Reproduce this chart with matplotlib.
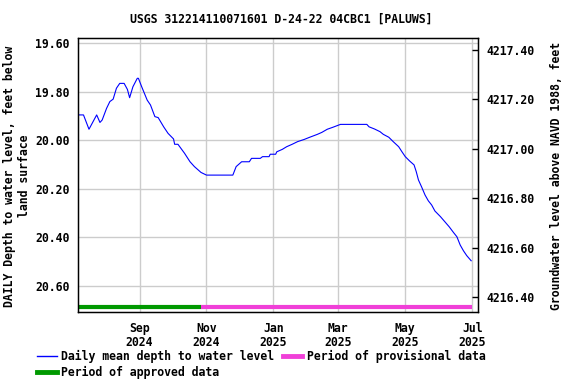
import matplotlib
matplotlib.use("Agg")
import matplotlib.pyplot as plt
from matplotlib.lines import Line2D
import pandas as pd

title = "USGS 312214110071601 D-24-22 04CBC1 [PALUWS]"

dates = [
    "2024-07-07", "2024-07-12", "2024-07-17", "2024-07-24", "2024-07-27", "2024-07-29",
    "2024-08-02", "2024-08-05", "2024-08-08", "2024-08-11", "2024-08-14", "2024-08-18",
    "2024-08-21", "2024-08-23", "2024-08-26", "2024-08-30", "2024-08-31", "2024-09-03",
    "2024-09-08", "2024-09-11", "2024-09-15", "2024-09-18", "2024-09-23", "2024-09-27",
    "2024-10-02", "2024-10-03", "2024-10-06", "2024-10-12", "2024-10-17", "2024-10-21",
    "2024-10-27", "2024-11-01", "2024-11-25", "2024-11-28", "2024-12-03", "2024-12-10",
    "2024-12-12", "2024-12-20", "2024-12-22", "2024-12-28", "2024-12-29", "2025-01-03",
    "2025-01-04", "2025-01-09", "2025-01-13", "2025-01-18", "2025-01-23", "2025-01-29",
    "2025-02-03", "2025-02-10", "2025-02-14", "2025-02-19", "2025-02-24", "2025-03-03",
    "2025-03-27", "2025-03-29", "2025-04-03", "2025-04-08", "2025-04-11", "2025-04-16",
    "2025-04-20", "2025-04-25", "2025-04-28", "2025-05-01", "2025-05-05", "2025-05-09",
    "2025-05-11", "2025-05-13", "2025-05-16", "2025-05-19", "2025-05-22", "2025-05-25",
    "2025-05-28", "2025-06-02", "2025-06-06", "2025-06-10", "2025-06-14", "2025-06-17",
    "2025-06-20", "2025-06-23", "2025-06-26", "2025-06-30",
]
depth = [
    19.895, 19.895, 19.954, 19.895, 19.926, 19.916,
    19.868, 19.840, 19.830, 19.785, 19.765, 19.765,
    19.790, 19.824, 19.779, 19.744, 19.744, 19.779,
    19.834, 19.854, 19.902, 19.906, 19.944, 19.971,
    19.994, 20.016, 20.016, 20.053, 20.088, 20.108,
    20.132, 20.143, 20.143, 20.108, 20.088, 20.088,
    20.074, 20.074, 20.067, 20.067, 20.057, 20.057,
    20.047, 20.037, 20.026, 20.016, 20.005, 19.996,
    19.987, 19.975, 19.967, 19.954, 19.946, 19.934,
    19.934, 19.944, 19.953, 19.964, 19.975, 19.987,
    20.005, 20.026, 20.047, 20.067, 20.085, 20.101,
    20.129, 20.163, 20.193, 20.225, 20.249, 20.266,
    20.291, 20.314, 20.335, 20.356, 20.380, 20.397,
    20.431, 20.455, 20.475, 20.496,
]

approved_period = ["2024-07-07", "2024-10-27"]
provisional_period = ["2024-10-27", "2025-07-01"]
period_depth = 20.685

left_ticks = [19.60, 19.80, 20.00, 20.20, 20.40, 20.60]
right_ticks = [4217.40, 4217.20, 4217.00, 4216.80, 4216.60, 4216.40]
right_limits = [4216.3393, 4217.4485]
x_ticks = ["2024-09-01", "2024-11-01", "2025-01-01", "2025-03-01", "2025-05-01", "2025-07-01"]
x_labels = ["Sep\n2024", "Nov\n2024", "Jan\n2025", "Mar\n2025", "May\n2025", "Jul\n2025"]

FONT = "DejaVu Sans Mono"
FS = 8.3
plt.rcParams["font.family"] = FONT
plt.rcParams["font.weight"] = "bold"

fig = plt.figure(figsize=(5.76, 3.84), dpi=100)
W, H = 576, 384
l, r, t, b = 78, 478.3, 38, 312.3
ax = fig.add_axes([l / W, 1 - b / H, (r - l) / W, (b - t) / H])

blue = "#0000ff"
green = "#009900"
pink = "#f040d8"

d = pd.to_datetime(dates)
ax.plot(d, depth, color=blue, lw=0.8)
ax.plot(pd.to_datetime(approved_period), [period_depth] * 2, color=green, lw=3.0, solid_capstyle="butt")
ax.plot(pd.to_datetime(provisional_period), [period_depth] * 2, color=pink, lw=3.0, solid_capstyle="butt")

ax.set_xlim(pd.Timestamp("2024-07-07"), pd.Timestamp("2025-07-06 12:00"))
ax.set_ylim(20.7084, 19.578)

ax.set_xticks(pd.to_datetime(x_ticks))
ax.set_xticklabels(x_labels, fontsize=FS, fontweight="bold", linespacing=1.1)
ax.set_yticks(left_ticks)
ax.set_yticklabels([f"{v:.2f}" for v in left_ticks], fontsize=FS, fontweight="bold")
ax.tick_params(axis="x", length=0, pad=7)
ax.tick_params(axis="y", length=0, pad=6)
ax.grid(True, color="#cccccc", lw=1.0)
ax.set_axisbelow(True)
for s in ax.spines.values():
    s.set_linewidth(1.0)
    s.set_color("black")

ax2 = ax.twinx()
ax2.set_ylim(*right_limits)
ax2.set_yticks(right_ticks)
ax2.set_yticklabels([f"{v:.2f}" for v in right_ticks], fontsize=FS, fontweight="bold")
ax2.tick_params(axis="y", direction="in", length=4, width=1, pad=6)

fig.text(281 / W, 1 - 19 / H, title, ha="center", va="center", fontsize=FS, fontweight="bold")
fig.text(17 / W, 1 - 176 / H, "DAILY Depth to water level, feet below\nland surface",
         rotation=90, ha="center", va="center", fontsize=FS, fontweight="bold",
         multialignment="center", linespacing=1.1)
fig.text(557 / W, 1 - 176 / H, "Groundwater level above NAVD 1988, feet",
         rotation=90, ha="center", va="center", fontsize=FS, fontweight="bold")

handles = [
    Line2D([], [], color=blue, lw=1.0),
    Line2D([], [], color=green, lw=3.5),
    Line2D([], [], color=pink, lw=3.5),
]
labels = ["Daily mean depth to water level", "Period of approved data", "Period of provisional data"]
fig.legend(handles, labels, loc="upper left", bbox_to_anchor=(37 / W, 1 - 350 / H), ncol=2,
           frameon=False, prop={"family": FONT, "weight": "bold", "size": FS},
           handlelength=1.7, handletextpad=0.42, columnspacing=0.7, labelspacing=0.28,
           borderaxespad=0, borderpad=0)

fig.savefig("out.png", dpi=100)
